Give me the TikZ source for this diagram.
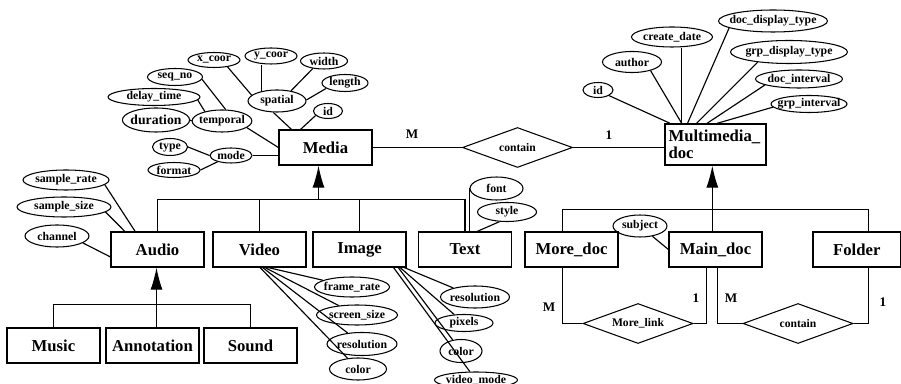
\documentclass[tikz,border=0pt]{standalone}
\usepackage{fontspec}
\setmainfont{Liberation Serif}
\usetikzlibrary{arrows.meta, shapes.geometric}

\tikzset{
    ent/.style={draw, rectangle, line width=0.7pt, inner sep=1pt, minimum width=1.86cm, minimum height=0.7cm, font=\fontsize{9.5}{10}\selectfont\bfseries},
    attr/.style={draw, ellipse, line width=0.6pt, inner xsep=-1pt, inner ysep=0pt, font=\fontsize{6.7}{7}\selectfont\bfseries},
    rel/.style={draw, diamond, aspect=2.75, line width=0.6pt, inner sep=0pt, minimum width=2.2cm, minimum height=0.8cm, font=\fontsize{6.6}{7}\selectfont\bfseries},
    card/.style={inner sep=0pt, font=\fontsize{7.5}{8}\selectfont\bfseries},
    sz/.style 2 args={minimum width=#1*0.02cm, minimum height=#2*0.02cm},
    isa/.style={-{Latex[length=0.44cm, width=0.24cm]}},
}

\begin{document}
\begin{tikzpicture}[x=0.02cm, y=-0.02cm, line width=0.65pt]
    \useasboundingbox (0,0) rectangle (901,384);

    \node[ent] (media) at (325.5,147.5) {Media};
    \node[ent, sz={101}{41}, align=left, text width=1.88cm, inner sep=2pt] (mmdoc) at (715.5,144.5) {Multimedia\_\\doc};
    \node[ent] (audio) at (157.5,249.5) {Audio};
    \node[ent] (video) at (259.5,249.5) {Video};
    \node[ent] (image) at (359.5,249.5) {Image};
    \node[ent] (txt) at (465,249.5) {Text};
    \node[ent] (moredoc) at (571.5,249.5) {More\_doc};
    \node[ent] (maindoc) at (715.5,249.5) {Main\_doc};
    \node[ent, sz={87.5}{35}] (folder) at (856.75,249.5) {Folder};
    \node[ent] (music) at (53.5,345.5) {Music};
    \node[ent] (annot) at (152.5,345.5) {Annotation};
    \node[ent] (sound) at (250.5,345.5) {Sound};

    \node[rel] (contain) at (517.5,147.5) {contain};
    \node[rel] (morelink) at (638,323.5) {More\_link};
    \node[rel] (contain2) at (798,323.5) {contain};

    \node[attr, sz={52}{15}] (xcoor) at (214,60) {x\_coor};
    \node[attr, sz={52}{16}] (ycoor) at (271,56) {y\_coor};
    \node[attr, sz={47}{16}] (wid) at (324,61) {width};
    \node[attr, sz={46}{17}] (len) at (345,83) {length};
    \node[attr, sz={58}{22}] (spatial) at (277,101) {spatial};
    \node[attr, sz={29}{15}] (mid) at (328,111) {id};
    \node[attr, sz={55}{17}] (seqno) at (175,77) {seq\_no};
    \node[attr, sz={92}{17}] (delay) at (154,97) {delay\_time};
    \node[attr, sz={64}{24}, font=\fontsize{7.8}{9}\selectfont\bfseries] (dur) at (156,120) {duration};
    \node[attr, sz={52}{22}] (temporal) at (222,121) {temporal};
    \node[attr, sz={35}{17}] (mtype) at (170,147) {type};
    \node[attr, sz={52}{15}] (mformat) at (174,170) {format};
    \node[attr, sz={42}{15}] (mode) at (231,155.5) {mode};

    \node[attr, sz={109}{22}, inner xsep=-3.5pt] (ddisp) at (773,21) {doc\_display\_type};
    \node[attr, sz={81}{20}] (cdate) at (672,37) {create\_date};
    \node[attr, sz={117}{23}, inner xsep=-3pt] (gdisp) at (789,52) {grp\_display\_type};
    \node[attr, sz={59}{21}] (author) at (632,62) {author};
    \node[attr, sz={87}{18}, inner xsep=-2pt] (dint) at (799,79) {doc\_interval};
    \node[attr, sz={30}{15}] (did) at (598,90) {id};
    \node[attr, sz={76}{17}, inner xsep=-3pt] (gint) at (809,104) {grp\_interval};

    \node[attr, sz={86}{20}] (srate) at (66,180) {sample\_rate};
    \node[attr, sz={94}{20}] (ssize) at (64,207) {sample\_size};
    \node[attr, sz={64}{22}] (chan) at (57,236) {channel};

    \node[attr, sz={75}{20}, inner xsep=-2pt] (frate) at (352,287) {frame\_rate};
    \node[attr, sz={81}{20}] (scr) at (357,315) {screen\_size};
    \node[attr, sz={70}{23}] (vres) at (362,344) {resolution};
    \node[attr, sz={57}{22}] (vcol) at (358,369) {color};

    \node[attr, sz={69}{22}] (ires) at (475,297) {resolution};
    \node[attr, sz={58}{17}] (pix) at (464,323) {pixels};
    \node[attr, sz={42}{23}] (icol) at (461,351) {color};
    \node[attr, sz={83}{16}, inner xsep=-2pt] (vmode) at (476,380) {video\_mode};

    \node[attr, sz={53}{23}] (tfont) at (496.5,188.5) {font};
    \node[attr, sz={59}{19}] (tstyle) at (507,212) {style};
    \node[attr, sz={54}{22}] (subj) at (640,226) {subject};

    \node[card] (c1) at (412,134) {M};
    \node[card] (c2) at (609,135) {1};
    \node[card] (c3) at (549,307) {M};
    \node[card] (c4) at (696,298) {1};
    \node[card] (c5) at (731,298) {M};
    \node[card] (c6) at (883,302) {1};

    \coordinate (mbus) at (318.5,199.5);
    \coordinate (abus) at (156.5,304.5);
    \coordinate (dbus) at (maindoc.100 |- 0,209.5);

    \draw (xcoor.-27) -- (spatial.167);
    \draw (spatial.148) -- (spatial.148 |- ycoor.south);
    \draw (wid.214) -- (spatial.36);
    \draw (len.196) -- (spatial.2);
    \draw (spatial.252) -- (media.152);
    \draw (mid.200) -- (media.144);
    \draw (seqno.-5) -- (temporal.72);
    \draw (delay.-4) -- (temporal.151);
    \draw (dur.east) -- (temporal.west);
    \draw (temporal.-15) -- (media.west);
    \draw (mtype.east) -- (mode.west);
    \draw (mformat.east) -- (mode.205);
    \draw (mode.east) -- (mode.east -| media.west);

    \draw (did.-27) -- (mmdoc.155);
    \draw (author.-25) -- (mmdoc.148);
    \draw (mmdoc.148) -- (mmdoc.148 |- cdate.south);
    \draw (ddisp.189) -- (mmdoc.143);
    \draw (gdisp.198) -- (mmdoc.132);
    \draw (dint.190) -- (mmdoc.112);
    \draw (gint.185) -- (mmdoc.86);

    \draw (media.east) -- (contain.west);
    \draw (contain.east) -- (contain.east -| mmdoc.west);

    \draw (srate.-7) -- (audio.141);
    \draw (ssize.-7) -- (audio.151);
    \draw (chan.-15) -- (audio.189);

    \draw (video.-64) -- (frate);
    \draw (video.-73) -- (scr);
    \draw (video.-80) -- (vres);
    \draw (video.-88) -- (vcol);

    \draw (image.-22) -- (ires);
    \draw (image.-24) -- (pix);
    \draw (image.-25) -- (icol);
    \draw (image.-28) -- (vmode);

    \draw (tfont.west) -- (tfont.west |- txt.north);
    \draw (tstyle.232) -- (txt.56);
    \draw (subj) -- (maindoc.west);

    \draw (audio.north) |- (mbus) -| (txt.north);
    \draw (video.north) -- (video.north |- mbus);
    \draw (image.north) -- (image.north |- mbus);
    \draw[isa] (mbus) -- (mbus |- media.south);

    \draw (music.north) |- (abus) -| (sound.north);
    \draw[isa] (annot.north -| abus) -- (abus |- audio.south);

    \draw (moredoc.116) |- (dbus) -| (folder.57);
    \draw[isa] (maindoc.100) -- (maindoc.100 |- mmdoc.south);

    \draw (moredoc.244) |- (morelink.west);
    \draw (morelink.east) -| (maindoc.-116);
    \draw (maindoc.-85) |- (contain2.west);
    \draw (contain2.east) -| (folder.-57);
\end{tikzpicture}
\end{document}
